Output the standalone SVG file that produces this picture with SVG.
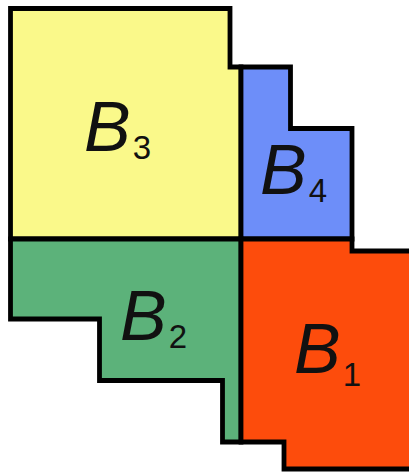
<svg xmlns="http://www.w3.org/2000/svg" width="409" height="472" viewBox="0 0 409 472">
<style>
.r{stroke:#000;stroke-width:4.8;stroke-linejoin:miter}
.t{font-family:"Liberation Sans",Arial,sans-serif;font-style:italic;font-size:70px;fill:#111}
.s{font-style:normal;font-size:33px}
</style>
<rect width="409" height="472" fill="#fff"/>
<g id="B3"><polygon class="r" fill="#FAF98A" points="10.5,8.5 230,8.5 230,67 241,67 241,239 10.5,239"/><text class="t" x="84" y="151">B<tspan class="s" dx="2" dy="8">3</tspan></text></g>
<g id="B4"><polygon class="r" fill="#6D8EF9" points="241,67 290.5,67 290.5,128.5 352,128.5 352,239 241,239"/><text class="t" x="260" y="194">B<tspan class="s" dx="2" dy="8">4</tspan></text></g>
<g id="B2"><polygon class="r" fill="#5CB27A" points="10.5,239 241,239 241,442 222.5,442 222.5,380.5 99.5,380.5 99.5,319 10.5,319"/><text class="t" x="120" y="340">B<tspan class="s" dx="2" dy="8">2</tspan></text></g>
<g id="B1"><polygon class="r" fill="#FD4C0C" points="241,239 352,239 352,251 415,251 415,469 284,469 284,442 241,442"/><text class="t" x="294" y="373">B<tspan class="s" dx="2" dy="13">1</tspan></text></g>
<g id="connectors"></g>
</svg>
